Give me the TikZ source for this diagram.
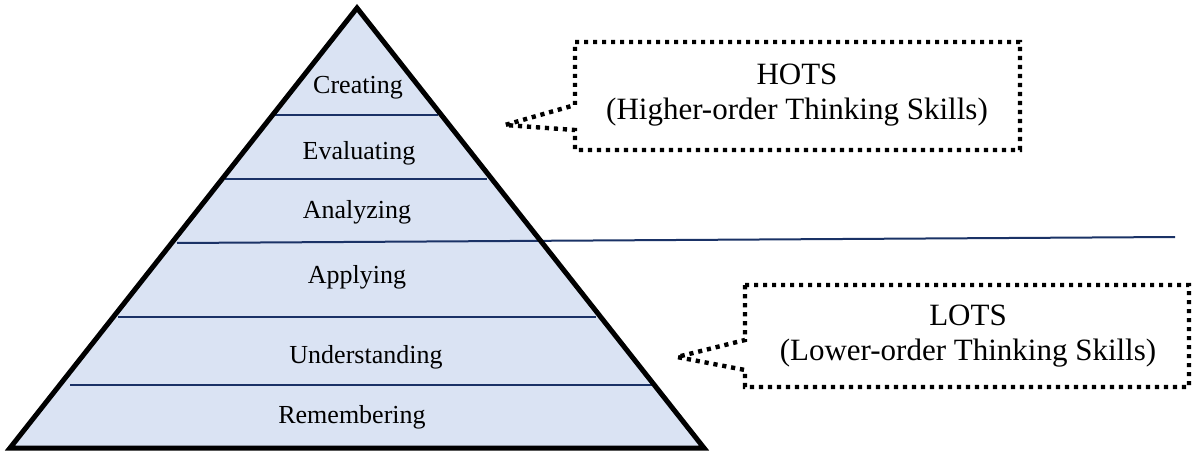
\documentclass[tikz,border=0pt]{standalone}
\usepackage{fontspec}
\setmainfont{Liberation Serif}
\definecolor{tierfill}{HTML}{DAE3F3}
\definecolor{tierline}{HTML}{1A3266}
\tikzset{
  tierlabel/.style={anchor=base, inner sep=0pt, font=\fontsize{26}{31}\selectfont},
  tiersep/.style={draw=tierline, line width=2pt},
  calloutbox/.style={draw=black, line width=4.4pt, dash pattern=on 4.2pt off 4.8pt, line join=miter, fill=white},
  callouttext/.style={align=center, inner sep=0pt, font=\fontsize{31}{35.5}\selectfont}
}
\begin{document}
\begin{tikzpicture}[x=1pt, y=-1pt]
  \useasboundingbox (0,0) rectangle (1192,452);

  % pyramid body
  \coordinate (apex) at (357,8);
  \coordinate (baseL) at (10,448);
  \coordinate (baseR) at (704,448);
  \fill[tierfill] (apex) -- (baseR) -- (baseL) -- cycle;

  % tier separators
  \draw[tiersep] (272,115) -- (438,115);
  \draw[tiersep] (225,179) -- (487,179);
  \draw[tiersep] (177,243) -- (1175,237);
  \draw[tiersep] (118,317) -- (596,317);
  \draw[tiersep] (70,385) -- (652,385);

  % outline
  \draw[line width=5pt, line join=miter, miter limit=20] (apex) -- (baseR) -- (baseL) -- cycle;

  % tier labels
  \node[tierlabel] (creating) at (358,93) {Creating};
  \node[tierlabel] (evaluating) at (359,159) {Evaluating};
  \node[tierlabel] (analyzing) at (357,218) {Analyzing};
  \node[tierlabel] (applying) at (357,283) {Applying};
  \node[tierlabel] (understanding) at (366,363) {Understanding};
  \node[tierlabel] (remembering) at (352,423) {Remembering};

  % HOTS callout
  \coordinate (hotsTip) at (505,125);
  \draw[calloutbox] (575,42) -- (1020,42) -- (1020,150) -- (575,150) -- (575,130)
        -- (hotsTip) -- (575,105) -- cycle;
  \node[callouttext] (hots) at (797,95) {HOTS\\(Higher-order Thinking Skills)};

  % LOTS callout
  \coordinate (lotsTip) at (677,357);
  \draw[calloutbox] (745,285) -- (1189,285) -- (1189,387) -- (745,387) -- (745,370)
        -- (lotsTip) -- (745,340) -- cycle;
  \node[callouttext] (lots) at (968,336) {LOTS\\(Lower-order Thinking Skills)};
\end{tikzpicture}
\end{document}
